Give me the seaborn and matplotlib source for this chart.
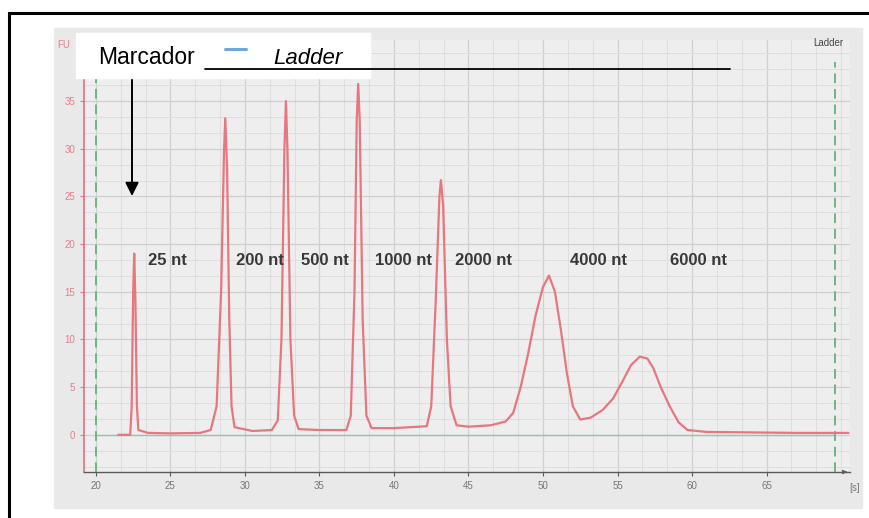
import matplotlib.pyplot as plt
import pandas as pd
import seaborn as sns
from matplotlib.patches import Rectangle
from matplotlib.ticker import MultipleLocator

# electropherogram trace: time [s] vs fluorescence [FU]
trace_time = [
    21.5, 22.3, 22.4, 22.5, 22.57, 22.65, 22.75, 22.85, 23.5, 25.0,
    27.0, 27.7, 28.1, 28.4, 28.6, 28.68, 28.8, 28.95, 29.1, 29.3,
    30.5, 31.8, 32.2, 32.45, 32.65, 32.75, 32.85, 33.05, 33.3, 33.6,
    35.0, 36.8, 37.1, 37.35, 37.5, 37.6, 37.7, 37.9, 38.15, 38.5,
    40.0, 42.2, 42.5, 42.8, 43.05, 43.15, 43.3, 43.55, 43.8, 44.2,
    45.0, 46.5, 47.5, 48.0, 48.5, 49.0, 49.5, 50.0, 50.4, 50.8,
    51.2, 51.6, 52.0, 52.5, 53.2, 54.0, 54.7, 55.3, 55.9, 56.5,
    57.0, 57.4, 57.9, 58.5, 59.1, 59.7, 61.0, 64.0, 67.0, 70.5,
]
trace_fu = [
    0.0, 0.0, 3.0, 15.0, 19.0, 14.0, 3.0, 0.5, 0.2, 0.15,
    0.2, 0.5, 3.0, 15.0, 30.0, 33.2, 28.0, 12.0, 3.0, 0.8,
    0.4, 0.5, 1.5, 10.0, 30.0, 35.0, 30.0, 10.0, 2.0, 0.6,
    0.5, 0.5, 2.0, 15.0, 33.0, 36.8, 33.0, 12.0, 2.0, 0.7,
    0.7, 0.9, 3.0, 14.0, 25.0, 26.7, 24.0, 10.0, 3.0, 1.0,
    0.85, 1.0, 1.4, 2.3, 5.0, 8.5, 12.5, 15.5, 16.7, 15.0,
    11.0, 6.5, 3.0, 1.6, 1.8, 2.6, 3.8, 5.5, 7.3, 8.2,
    8.0, 7.0, 5.0, 3.0, 1.3, 0.5, 0.3, 0.25, 0.2, 0.2,
]

peak_labels = ['25 nt', '200 nt', '500 nt', '1000 nt', '2000 nt', '4000 nt', '6000 nt']
x_ticks = [20, 25, 30, 35, 40, 45, 50, 55, 60, 65]
y_ticks = [0, 5, 10, 15, 20, 25, 30, 35]
marker_times = [20.0, 69.6]   # lower / upper marker

# layout of the labels (left edge, in seconds)
label_x = [23.5, 29.4, 33.75, 38.7, 44.1, 51.8, 58.5]
label_y = 18.3

TRACE = '#e6767f'
GREEN = '#6fb585'
PINK_TXT = '#e07f8c'

sns.set_style('ticks')
plt.rcParams['font.family'] = ['Liberation Sans', 'DejaVu Sans']

df = pd.DataFrame({'time': trace_time, 'fu': trace_fu})

fig = plt.figure(figsize=(8.7, 5.18), dpi=100)

# grey panel behind the plot and the black frame of the figure
fig.add_artist(Rectangle((54 / 870, 1 - 508 / 518), 808 / 870, 480 / 518,
                         transform=fig.transFigure, color='#e9e9e9', zorder=-2))
fig.add_artist(Rectangle((9 / 870, -0.2), 1.2, 1.2 - 12.5 / 518,
                         transform=fig.transFigure, fill=False,
                         ec='black', lw=2.2, zorder=10))

ax = fig.add_axes([84 / 870, 46 / 518, 766 / 870, 432 / 518])
ax.set_facecolor('#eeeeee')

sns.lineplot(data=df, x='time', y='fu', ax=ax, color=TRACE, lw=1.6,
             zorder=4, estimator=None, sort=False)

ax.set_xlim(19.2, 70.6)
ax.set_ylim(-3.9, 41.4)
ax.set_xticks(x_ticks)
ax.set_yticks(y_ticks)
ax.xaxis.set_minor_locator(MultipleLocator(5 / 3))
ax.yaxis.set_minor_locator(MultipleLocator(5 / 3))
ax.grid(which='major', color='#cfcfcf', lw=0.9)
ax.grid(which='minor', color='#dedede', lw=0.7)
ax.set_axisbelow(True)
ax.set_xlabel('')
ax.set_ylabel('')

for side in ['top', 'right']:
    ax.spines[side].set_visible(False)
ax.spines['left'].set_color('#e5707f')
ax.spines['left'].set_linewidth(1.2)
ax.spines['bottom'].set_color('#5a5a5a')
ax.spines['bottom'].set_linewidth(1.0)
ax.tick_params(axis='x', colors='#5a5a5a', labelsize=7, length=3, width=0.8,
               labelcolor='#777777')
ax.tick_params(axis='y', colors='#e5707f', labelsize=7, length=3, width=0.8,
               labelcolor=PINK_TXT)
ax.tick_params(which='minor', length=0)

# baseline and the lower / upper markers
ax.plot([marker_times[0], marker_times[1]], [0, 0], color='#8dcaa0', lw=1.0, zorder=3)
for t in marker_times:
    ax.axvline(t, ymax=0.95, color=GREEN, lw=1.4, ls=(0, (5, 3)), zorder=3)

ax.annotate('', xy=(1.0, 0), xytext=(0.99, 0), xycoords='axes fraction',
            arrowprops=dict(arrowstyle='-|>', color='#5a5a5a', lw=0.8,
                            mutation_scale=6))

for txt, lx in zip(peak_labels, label_x):
    ax.text(lx, label_y, txt, ha='left', va='center', fontsize=12,
            fontweight='bold', color='#383838', zorder=5)

fig.text(57 / 870, 1 - 45 / 518, 'FU', color=PINK_TXT, fontsize=7, va='center')
fig.text(843 / 870, 1 - 43 / 518, 'Ladder', color='#444444', fontsize=7,
         ha='right', va='center')
fig.text(849 / 870, 1 - 488 / 518, '[s]', color='#777777', fontsize=7, va='center')

# white box with the marker legend
fig.add_artist(Rectangle((76 / 870, 1 - 78 / 518), 294 / 870, 45 / 518,
                         transform=fig.transFigure, color='white', zorder=6))
fig.text(98 / 870, 1 - 64 / 518, 'Marcador', fontsize=16.5, color='black',
         va='baseline', zorder=7)
fig.text(273 / 870, 1 - 64 / 518, 'Ladder', fontsize=16, style='italic',
         color='black', va='baseline', zorder=7)
fig.add_artist(plt.Line2D([225 / 870, 246 / 870], [1 - 49 / 518, 1 - 49 / 518],
                          transform=fig.transFigure, color='#6fa8d8', lw=2.2, zorder=7))
fig.add_artist(plt.Line2D([205 / 870, 730 / 870], [1 - 69 / 518, 1 - 69 / 518],
                          transform=fig.transFigure, color='black', lw=1.3, zorder=7))

ax.annotate('', xy=(132 / 870, 1 - 196 / 518), xytext=(132 / 870, 1 - 78 / 518),
            xycoords='figure fraction',
            arrowprops=dict(arrowstyle='-|>', color='black', lw=1.4,
                            mutation_scale=20, shrinkA=0, shrinkB=0))

fig.savefig('out.png', dpi=100)
